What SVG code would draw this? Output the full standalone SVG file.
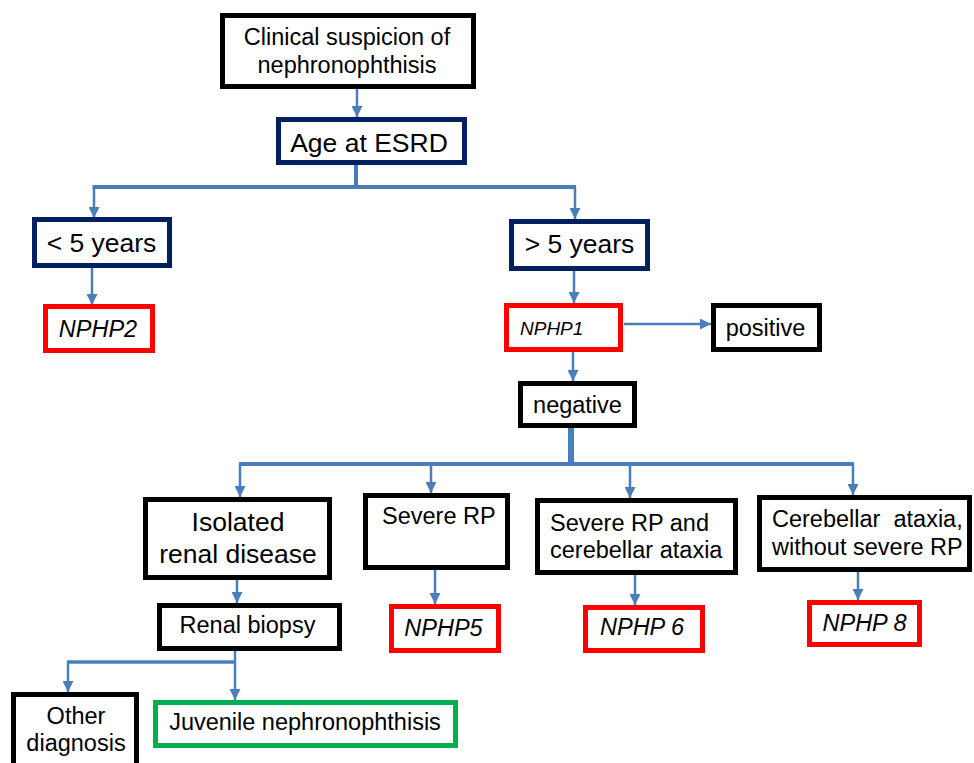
<svg xmlns="http://www.w3.org/2000/svg" width="974" height="763" viewBox="0 0 974 763">
<style>
.b{fill:#fff;stroke:#000;stroke-width:5}
.n{fill:#fff;stroke:#002060;stroke-width:5}
.r{fill:#fff;stroke:#ff0000;stroke-width:5}
.g{fill:#fff;stroke:#00b050;stroke-width:5}
text{font-family:"Liberation Sans",Arial,sans-serif;font-size:23.5px;fill:#000}
.c{text-anchor:middle}
.i{font-style:italic}
.L{font-size:26.5px}
.k{fill:none;stroke:#4a7ebb;stroke-width:2.5}
.a{marker-end:url(#ah)}
</style>
<defs>
<marker id="ah" markerUnits="userSpaceOnUse" markerWidth="11" markerHeight="11" refX="10" refY="5" orient="auto" viewBox="0 0 10 10">
<path d="M0,0 L10,5 L0,10 z" fill="#4a7ebb"/>
</marker>
</defs>
<g id="connectors">
<line class="k a" x1="357" y1="89" x2="357" y2="117"/>
<line class="k" x1="356" y1="165" x2="356" y2="187" style="stroke-width:4"/>
<line class="k" x1="92.5" y1="187" x2="576" y2="187" style="stroke-width:4"/>
<line class="k a" x1="94" y1="187" x2="94" y2="218"/>
<line class="k a" x1="575" y1="187" x2="575" y2="219"/>
<line class="k a" x1="92" y1="268" x2="92" y2="305"/>
<line class="k a" x1="574" y1="271" x2="574" y2="303"/>
<line class="k a" x1="624" y1="324" x2="711" y2="324"/>
<line class="k a" x1="573" y1="352" x2="573" y2="381"/>
<line class="k" x1="571" y1="428" x2="571" y2="464" style="stroke-width:6"/>
<line class="k" x1="239" y1="464" x2="854" y2="464" style="stroke-width:4"/>
<line class="k a" x1="240" y1="464" x2="240" y2="497"/>
<line class="k a" x1="431" y1="464" x2="431" y2="493"/>
<line class="k a" x1="630" y1="464" x2="630" y2="498"/>
<line class="k a" x1="853" y1="464" x2="853" y2="495"/>
<line class="k a" x1="237" y1="580" x2="237" y2="603"/>
<line class="k a" x1="435" y1="570" x2="435" y2="604"/>
<line class="k a" x1="635" y1="575" x2="635" y2="605"/>
<line class="k a" x1="858" y1="572" x2="858" y2="600"/>
<line class="k a" x1="235" y1="651" x2="235" y2="700"/>
<line class="k" x1="67" y1="662" x2="235" y2="662" style="stroke-width:3.5"/>
<line class="k a" x1="68" y1="662" x2="68" y2="692"/>
</g>
<g id="clinical"><rect class="b" x="222.5" y="15.5" width="251" height="71"/><text class="c" x="347" y="45">Clinical suspicion of</text><text class="c" x="347" y="73">nephronophthisis</text></g>
<g id="age"><rect class="n" x="278.5" y="119.5" width="186" height="43"/><text class="c L" x="369" y="152">Age at ESRD</text></g>
<g id="lt5"><rect class="n" x="34.5" y="219.5" width="135" height="46"/><text class="c L" x="101.5" y="252">&lt; 5 years</text></g>
<g id="nphp2"><rect class="r" x="45.5" y="306.5" width="107" height="44"/><text class="c i" x="98" y="337">NPHP2</text></g>
<g id="gt5"><rect class="n" x="511.5" y="221.5" width="136" height="47"/><text class="c L" x="579.5" y="253">&gt; 5 years</text></g>
<g id="nphp1"><rect class="r" x="506.5" y="305.5" width="114" height="44"/><text class="i" x="520" y="335" style="font-size:19px">NPHP1</text></g>
<g id="positive"><rect class="b" x="713.5" y="305.5" width="106" height="44"/><text class="c" x="765.5" y="336">positive</text></g>
<g id="negative"><rect class="b" x="520.5" y="383.5" width="114" height="42"/><text class="c" x="577.5" y="413">negative</text></g>
<g id="isolated"><rect class="b" x="145.5" y="499.5" width="184" height="78"/><text class="c L" x="238" y="531">Isolated</text><text class="c L" x="238" y="563">renal disease</text></g>
<g id="biopsy"><rect class="b" x="159.5" y="605.5" width="180" height="43"/><text class="c" x="247.5" y="633">Renal biopsy</text></g>
<g id="severerp"><rect class="b" x="365.5" y="495.5" width="142" height="72"/><text x="382" y="524">Severe RP</text></g>
<g id="nphp5"><rect class="r" x="391.5" y="606.5" width="107" height="44"/><text class="c i" x="443.5" y="636">NPHP5</text></g>
<g id="severerpca"><rect class="b" x="537.5" y="500.5" width="198" height="72"/><text x="550" y="531">Severe RP and</text><text x="550" y="558">cerebellar ataxia</text></g>
<g id="nphp6"><rect class="r" x="585.5" y="607.5" width="117" height="43"/><text class="c i" x="642" y="635">NPHP 6</text></g>
<g id="cerebellar"><rect class="b" x="759.5" y="497.5" width="210" height="72"/><text x="772" y="527" xml:space="preserve">Cerebellar  ataxia,</text><text x="772" y="555">without severe RP</text></g>
<g id="nphp8"><rect class="r" x="809.5" y="602.5" width="110" height="42"/><text class="c i" x="864.5" y="631">NPHP 8</text></g>
<g id="other"><rect class="b" x="13.5" y="694.5" width="123" height="80"/><text class="c" x="76" y="724">Other</text><text class="c" x="76" y="751">diagnosis</text></g>
<g id="juvenile"><rect class="g" x="155.5" y="702.5" width="300" height="43"/><text class="c" x="305" y="730">Juvenile nephronophthisis</text></g>
</svg>
